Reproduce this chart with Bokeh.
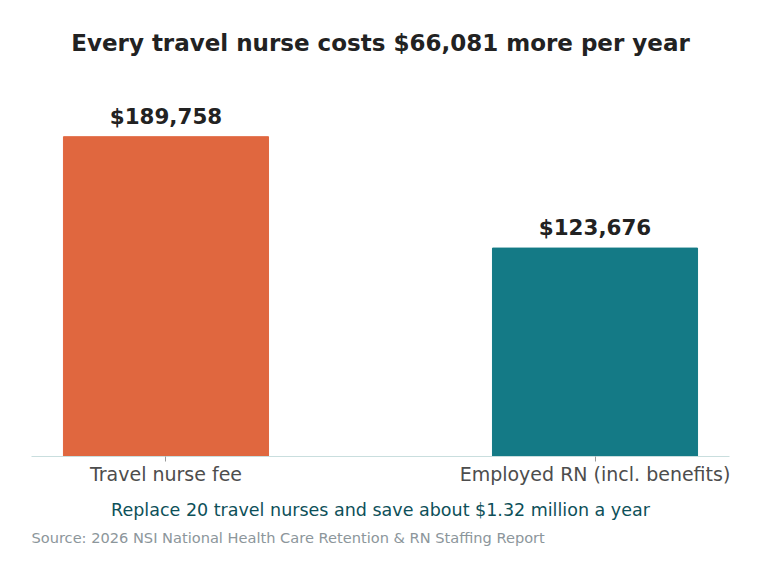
from bokeh.plotting import figure
from bokeh.models import ColumnDataSource, Range1d, FixedTicker, Title
from bokeh.core.properties import value
from bokeh.embed import file_html
from bokeh.resources import INLINE

categories = ["Travel nurse fee", "Employed RN (incl. benefits)"]
costs = [189758, 123676]
cost_labels = ["$189,758", "$123,676"]
bar_colors = ["#E0673F", "#147A86"]

title_text = "Every travel nurse costs $66,081 more per year"
subtitle_text = "Replace 20 travel nurses and save about $1.32 million a year"
source_text = "Source: 2026 NSI National Health Care Retention & RN Staffing Report"

FONT = "DejaVu Sans"

xs = list(range(len(categories)))
src = ColumnDataSource(dict(x=xs, cost=costs, label=cost_labels, color=bar_colors))

p = figure(width=744, height=556, output_backend="svg", toolbar_location=None,
           x_range=Range1d(-0.3135, 1.3135), y_range=Range1d(0, 234970),
           min_border_left=31, min_border_right=15, min_border_top=60, min_border_bottom=100)

p.title.text = title_text
p.title.align = "center"
p.title.text_font = FONT
p.title.text_font_size = "23px"
p.title.text_font_style = "bold"
p.title.text_color = "#222222"

p.vbar(x="x", top="cost", width=0.478, color="color", source=src)
p.text(x="x", y="cost", text="label", source=src, y_offset=-8,
       text_align="center", text_baseline="bottom",
       text_font=value(FONT), text_font_style="bold", text_font_size="21.4px",
       text_color="#222222")

p.yaxis.visible = False
p.grid.visible = False
p.outline_line_color = None

xa = p.xaxis[0]
xa.ticker = FixedTicker(ticks=xs)
xa.major_label_overrides = {i: c for i, c in zip(xs, categories)}
xa.minor_tick_line_color = None
xa.axis_line_color = "#c9dede"
xa.major_tick_line_color = "#999999"
xa.major_tick_out = 5
xa.major_tick_in = 0
xa.major_label_standoff = 1
xa.major_label_text_font = FONT
xa.major_label_text_font_size = "19px"
xa.major_label_text_color = "#4d4d4d"

p.add_layout(Title(text=subtitle_text, align="center", text_font=FONT,
                   text_font_size="17.5px", text_font_style="normal",
                   standoff=21, text_color="#0d5059"), "below")
p.add_layout(Title(text=source_text, align="left", text_font=FONT,
                   text_font_size="14.6px", text_font_style="normal",
                   standoff=-8, text_color="#8c969b"), "below")

open("out.html", "w").write(file_html(p, INLINE))
